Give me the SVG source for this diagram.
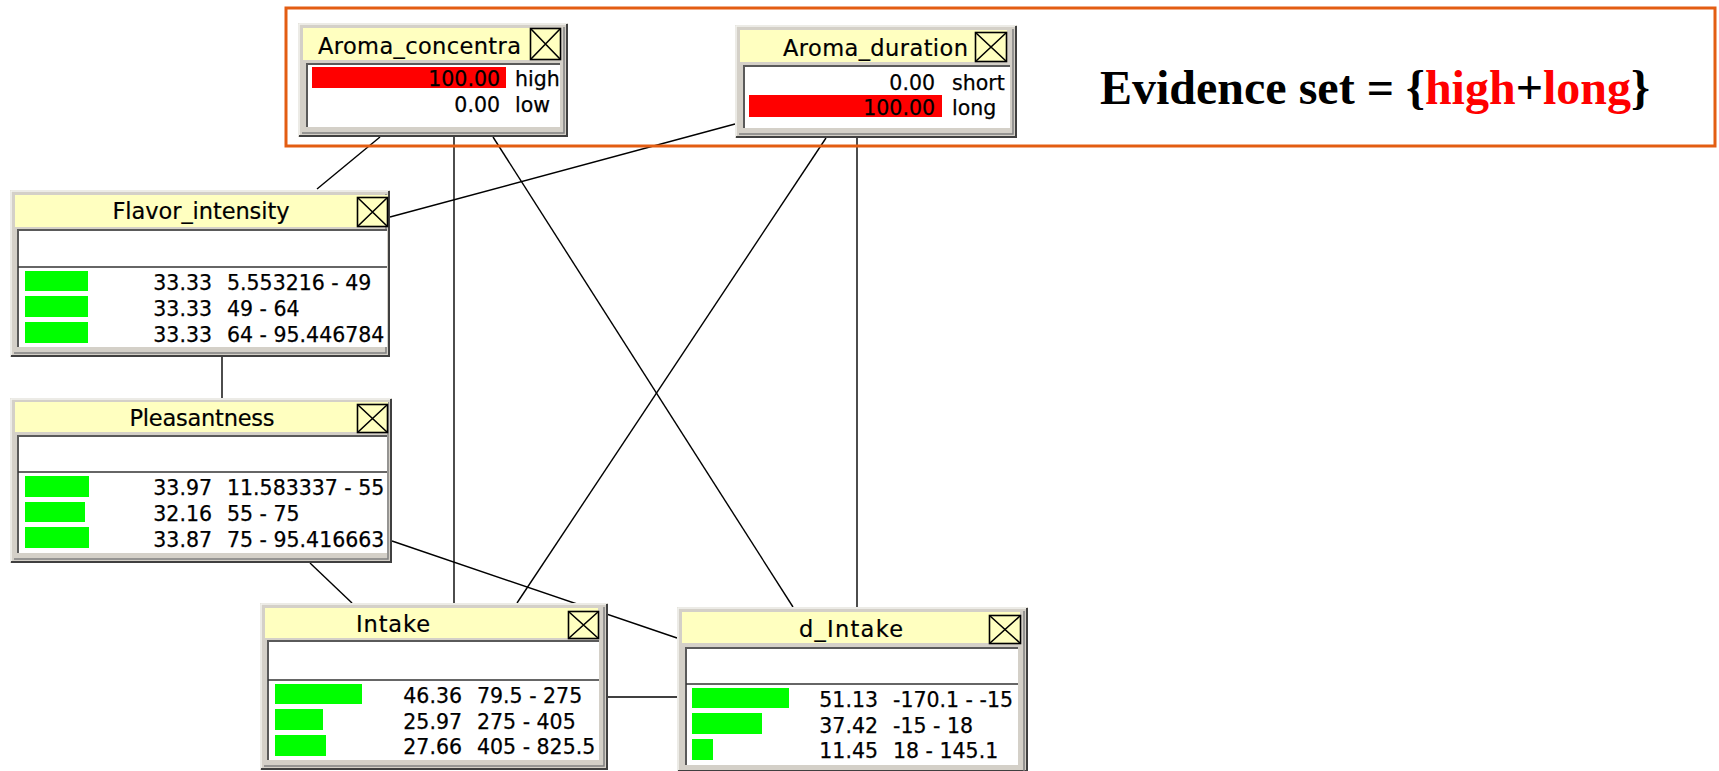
<svg xmlns="http://www.w3.org/2000/svg" width="1719" height="771" viewBox="0 0 1719 771">
<style>
.bg{fill:#ffffff}
.frame{fill:#d4d0c8}
.shadow{fill:none;stroke:#404040;stroke-width:2}
.shadow2{fill:none;stroke:#808080;stroke-width:1.5}
.hi{fill:none;stroke:#f4f4f0;stroke-width:1.5}
.title{fill:#ffffc0}
.body{fill:#ffffff}
.sunk{fill:none;stroke:#5a5a5a;stroke-width:2}
.sep{stroke:#333333;stroke-width:1.5}
.xbox{fill:none;stroke:#000000;stroke-width:1.6}
.ttl{font-family:"DejaVu Sans",Verdana,sans-serif;font-size:22.5px;fill:#000000;stroke:#000000;stroke-width:0.2}
.val{font-family:"DejaVu Sans",Verdana,sans-serif;font-size:20.5px;fill:#000000;stroke:#000000;stroke-width:0.25}
.num{text-anchor:end}
.green{fill:#00ff00}
.red{fill:#ff0000}
.edge{stroke:#000000;stroke-width:1.4;fill:none}
.ev{font-family:"Liberation Serif","Times New Roman",serif;font-weight:bold;font-size:48px;fill:#000000}
.evr{fill:#ff0000}
</style>
<rect class="bg" x="0" y="0" width="1719" height="771"/>

<g id="connectors">
  <line class="edge" x1="380" y1="137" x2="317" y2="189"/>
  <line class="edge" x1="454" y1="137" x2="454" y2="603"/>
  <line class="edge" x1="493" y1="137" x2="793" y2="607"/>
  <line class="edge" x1="735" y1="124" x2="390" y2="217"/>
  <line class="edge" x1="826" y1="138" x2="517" y2="603"/>
  <line class="edge" x1="857" y1="138" x2="857" y2="607"/>
  <line class="edge" x1="222" y1="357" x2="222" y2="398"/>
  <line class="edge" x1="310" y1="563" x2="352" y2="603"/>
  <line class="edge" x1="392" y1="541" x2="677" y2="638"/>
  <line class="edge" x1="608" y1="697" x2="677" y2="697"/>
</g>

<!-- Aroma_concentra -->
<g id="node-aroma-concentra">
  <rect class="frame" x="298" y="23" width="270" height="114"/>
  <path class="hi" d="M299,136 V24 H567"/>
  <path class="shadow" d="M299,136 H567 V24"/>
  <path class="shadow2" d="M302,133 H564 V27"/>
  <rect class="title" x="303" y="28" width="258" height="32"/>
  <rect class="xbox" x="530.5" y="28.5" width="30" height="31"/>
  <path class="xbox" d="M530.5,28.5 L560.5,59.5 M560.5,28.5 L530.5,59.5"/>
  <text class="ttl" x="521" y="54" text-anchor="end" textLength="203">Aroma_concentra</text>
  <rect class="body" x="306" y="63" width="254" height="64"/>
  <path class="sunk" d="M307,127 V64 H560"/>
  <rect class="red" x="312" y="67" width="194" height="21"/>
  <text class="val num" x="500" y="86">100.00</text>
  <text class="val" x="515" y="86">high</text>
  <text class="val num" x="500" y="112">0.00</text>
  <text class="val" x="515" y="112">low</text>
</g>

<!-- Aroma_duration -->
<g id="node-aroma-duration">
  <rect class="frame" x="735" y="25" width="282" height="113"/>
  <path class="hi" d="M736,137 V26 H1016"/>
  <path class="shadow" d="M736,137 H1016 V26"/>
  <path class="shadow2" d="M739,134 H1013 V29"/>
  <rect class="title" x="740" y="30" width="267" height="32"/>
  <rect class="xbox" x="975.5" y="32.5" width="31" height="29"/>
  <path class="xbox" d="M975.5,32.5 L1006.5,61.5 M1006.5,32.5 L975.5,61.5"/>
  <text class="ttl" x="968" y="56" text-anchor="end" textLength="185">Aroma_duration</text>
  <rect class="body" x="743" y="65" width="267" height="63"/>
  <path class="sunk" d="M744,128 V66 H1010"/>
  <text class="val num" x="935" y="90">0.00</text>
  <text class="val" x="952" y="90">short</text>
  <rect class="red" x="749" y="95" width="193" height="22"/>
  <text class="val num" x="935" y="115">100.00</text>
  <text class="val" x="952" y="115">long</text>
</g>

<!-- Flavor_intensity -->
<g id="node-flavor-intensity">
  <rect class="frame" x="10" y="190" width="380" height="167"/>
  <path class="hi" d="M11,356 V191 H389"/>
  <path class="shadow" d="M11,356 H389 V191"/>
  <path class="shadow2" d="M14,353 H386 V194"/>
  <rect class="title" x="15" y="195" width="373" height="32"/>
  <rect class="xbox" x="357.5" y="197.5" width="30" height="29"/>
  <path class="xbox" d="M357.5,197.5 L387.5,226.5 M387.5,197.5 L357.5,226.5"/>
  <text class="ttl" x="201" y="219" text-anchor="middle" textLength="177">Flavor_intensity</text>
  <rect class="body" x="17" y="229" width="370" height="118"/>
  <path class="sunk" d="M18,347 V230 H387"/>
  <line class="sep" x1="18" y1="267" x2="387" y2="267"/>
  <rect class="green" x="25" y="271" width="63" height="20"/>
  <rect class="green" x="25" y="296" width="63" height="21"/>
  <rect class="green" x="25" y="322" width="63" height="21"/>
  <text class="val num" x="212" y="290">33.33</text>
  <text class="val" x="227" y="290">5.553216 - 49</text>
  <text class="val num" x="212" y="316">33.33</text>
  <text class="val" x="227" y="316">49 - 64</text>
  <text class="val num" x="212" y="342">33.33</text>
  <text class="val" x="227" y="342">64 - 95.446784</text>
</g>

<!-- Pleasantness -->
<g id="node-pleasantness">
  <rect class="frame" x="10" y="398" width="382" height="165"/>
  <path class="hi" d="M11,562 V399 H391"/>
  <path class="shadow" d="M11,562 H391 V399"/>
  <path class="shadow2" d="M14,559 H388 V402"/>
  <rect class="title" x="15" y="402" width="373" height="30"/>
  <rect class="xbox" x="357.5" y="404.5" width="30" height="28"/>
  <path class="xbox" d="M357.5,404.5 L387.5,432.5 M387.5,404.5 L357.5,432.5"/>
  <text class="ttl" x="202" y="426" text-anchor="middle" textLength="145">Pleasantness</text>
  <rect class="body" x="17" y="435" width="370" height="118"/>
  <path class="sunk" d="M18,553 V436 H387"/>
  <line class="sep" x1="18" y1="472" x2="387" y2="472"/>
  <rect class="green" x="25" y="476" width="64" height="21"/>
  <rect class="green" x="25" y="502" width="60" height="20"/>
  <rect class="green" x="25" y="527" width="64" height="21"/>
  <text class="val num" x="212" y="495">33.97</text>
  <text class="val" x="227" y="495">11.583337 - 55</text>
  <text class="val num" x="212" y="521">32.16</text>
  <text class="val" x="227" y="521">55 - 75</text>
  <text class="val num" x="212" y="547">33.87</text>
  <text class="val" x="227" y="547">75 - 95.416663</text>
</g>

<!-- Intake -->
<g id="node-intake">
  <rect class="frame" x="260" y="603" width="348" height="167"/>
  <path class="hi" d="M261,769 V604 H607"/>
  <path class="shadow" d="M261,769 H607 V604"/>
  <path class="shadow2" d="M264,766 H604 V607"/>
  <rect class="title" x="265" y="608" width="333" height="30"/>
  <rect class="xbox" x="568.5" y="611.5" width="30" height="27"/>
  <path class="xbox" d="M568.5,611.5 L598.5,638.5 M598.5,611.5 L568.5,638.5"/>
  <text class="ttl" x="393" y="632" text-anchor="middle" textLength="74">Intake</text>
  <rect class="body" x="267" y="640" width="332" height="120"/>
  <path class="sunk" d="M268,760 V641 H599"/>
  <line class="sep" x1="268" y1="680" x2="599" y2="680"/>
  <rect class="green" x="275" y="684" width="87" height="20"/>
  <rect class="green" x="275" y="709" width="48" height="21"/>
  <rect class="green" x="275" y="735" width="51" height="21"/>
  <text class="val num" x="462" y="703">46.36</text>
  <text class="val" x="477" y="703">79.5 - 275</text>
  <text class="val num" x="462" y="729">25.97</text>
  <text class="val" x="477" y="729">275 - 405</text>
  <text class="val num" x="462" y="754">27.66</text>
  <text class="val" x="477" y="754">405 - 825.5</text>
</g>

<!-- d_Intake -->
<g id="node-d-intake">
  <rect class="frame" x="677" y="607" width="351" height="165"/>
  <path class="hi" d="M678,771 V608 H1027"/>
  <path class="shadow" d="M678,771 H1027 V608"/>
  <path class="shadow2" d="M1024,771 V611"/>
  <rect class="title" x="682" y="612" width="338" height="31"/>
  <rect class="xbox" x="989.5" y="615.5" width="31" height="28"/>
  <path class="xbox" d="M989.5,615.5 L1020.5,643.5 M1020.5,615.5 L989.5,643.5"/>
  <text class="ttl" x="851" y="637" text-anchor="middle" textLength="104">d_Intake</text>
  <rect class="body" x="685" y="647" width="333" height="118"/>
  <path class="sunk" d="M686,765 V648 H1018"/>
  <line class="sep" x1="686" y1="684" x2="1018" y2="684"/>
  <rect class="green" x="692" y="688" width="97" height="20"/>
  <rect class="green" x="692" y="713" width="70" height="21"/>
  <rect class="green" x="692" y="739" width="21" height="21"/>
  <text class="val num" x="878" y="707">51.13</text>
  <text class="val" x="893" y="707">-170.1 - -15</text>
  <text class="val num" x="878" y="733">37.42</text>
  <text class="val" x="893" y="733">-15 - 18</text>
  <text class="val num" x="878" y="758">11.45</text>
  <text class="val" x="893" y="758">18 - 145.1</text>
</g>

<g id="evidence">
  <rect x="286" y="8" width="1429" height="138" fill="none" stroke="#e35d12" stroke-width="3"/>
  <text class="ev" x="1100" y="104">Evidence set = {<tspan class="evr">high</tspan>+<tspan class="evr">long</tspan>}</text>
</g>
</svg>
